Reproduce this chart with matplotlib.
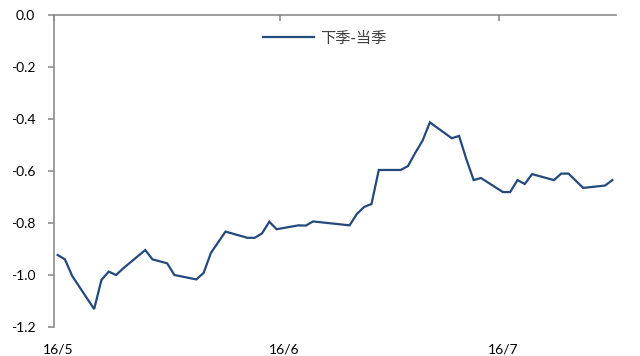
import matplotlib
matplotlib.use("Agg")
import matplotlib.pyplot as plt
import matplotlib.transforms as mtransforms
import pandas as pd

plt.rcParams['font.family'] = ['Lato', 'Noto Sans CJK SC', 'DejaVu Sans']

dates = ['2016-05-01', '2016-05-02', '2016-05-03', '2016-05-06', '2016-05-07',
         '2016-05-08', '2016-05-09', '2016-05-10', '2016-05-13', '2016-05-14',
         '2016-05-16', '2016-05-17', '2016-05-20', '2016-05-21', '2016-05-22',
         '2016-05-24', '2016-05-27', '2016-05-28', '2016-05-29', '2016-05-30',
         '2016-05-31', '2016-06-03', '2016-06-04', '2016-06-05', '2016-06-10',
         '2016-06-11', '2016-06-12', '2016-06-13', '2016-06-14', '2016-06-17',
         '2016-06-18', '2016-06-19', '2016-06-20', '2016-06-21', '2016-06-24',
         '2016-06-25', '2016-06-26', '2016-06-27', '2016-06-28', '2016-07-01',
         '2016-07-02', '2016-07-03', '2016-07-04', '2016-07-05', '2016-07-08',
         '2016-07-09', '2016-07-10', '2016-07-12', '2016-07-15', '2016-07-16']
spread = [-0.923, -0.940, -1.004, -1.131, -1.019,
          -0.987, -1.000, -0.974, -0.904, -0.940,
          -0.955, -1.000, -1.017, -0.992, -0.915,
          -0.833, -0.857, -0.857, -0.840, -0.795,
          -0.824, -0.809, -0.810, -0.794, -0.809,
          -0.765, -0.738, -0.727, -0.596, -0.596,
          -0.581, -0.530, -0.483, -0.413, -0.474,
          -0.465, -0.555, -0.635, -0.627, -0.681,
          -0.681, -0.635, -0.650, -0.612, -0.635,
          -0.610, -0.610, -0.665, -0.656, -0.635]
series_name = '下季-当季'
y_ticks = [0.0, -0.2, -0.4, -0.6, -0.8, -1.0, -1.2]
y_tick_labels = ['0.0', '-0.2', '-0.4', '-0.6', '-0.8', '-1.0', '-1.2']
x_ticks = ['2016-05-01', '2016-06-01', '2016-07-01']
x_tick_labels = ['16/5', '16/6', '16/7']

x = pd.to_datetime(dates) + pd.Timedelta(hours=12)

fig = plt.figure(figsize=(6.4, 3.56), dpi=100)
ax = fig.add_axes([54/640, 1-327/356, (616-54)/640, (327-15)/356])

line_color = '#24497c'
ax.plot(x, spread, color=line_color, lw=1.6, label=series_name, solid_joinstyle='miter')

ax.set_ylim(-1.2, 0.0)
ax.set_xlim(pd.Timestamp('2016-05-01'), pd.Timestamp('2016-05-01') + pd.Timedelta(days=77))

spine_color = '#8c8c8c'
for s in ['right', 'bottom']:
    ax.spines[s].set_visible(False)
ax.spines['left'].set_color(spine_color)
ax.spines['top'].set_color(spine_color)
ax.spines['left'].set_linewidth(1.2)
ax.spines['top'].set_linewidth(1.2)

ax.set_yticks(y_ticks)
ax.set_yticklabels(y_tick_labels)
ax.tick_params(axis='y', direction='out', length=4, color=spine_color, width=1.2,
               labelsize=10, labelcolor='#000000', pad=9.5)

xt = pd.to_datetime(x_ticks)
ax.set_xticks(xt)
ax.set_xticklabels(x_tick_labels)
ax.tick_params(axis='x', which='both', top=True, bottom=False, labeltop=False, labelbottom=True,
               direction='in', length=4, color=spine_color, width=1.2,
               labelsize=10, labelcolor='#000000', pad=12)
offset = mtransforms.ScaledTranslation(4/100, 0, fig.dpi_scale_trans)
for lab in ax.get_xticklabels():
    lab.set_transform(lab.get_transform() + offset)

leg = ax.legend(loc='center left', bbox_to_anchor=(263/640, 1-38/356),
                bbox_transform=fig.transFigure, frameon=False,
                handlelength=3.35, handletextpad=0.4, borderpad=0, borderaxespad=0,
                prop={'family': ['Noto Sans CJK SC', 'DejaVu Sans'], 'size': 11})
for t in leg.get_texts():
    t.set_color('#404040')

fig.savefig('out.png', dpi=100)
